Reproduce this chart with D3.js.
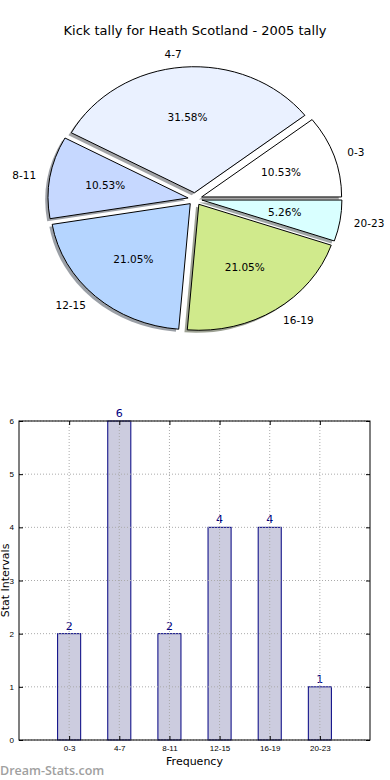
<!DOCTYPE html>
<html>
<head>
<meta charset="utf-8">
<script src="https://cdn.jsdelivr.net/npm/d3@7"></script>
<style>
  body { margin: 0; background: #fff; }
  svg { display: block; font-family: "DejaVu Sans", sans-serif; }
</style>
</head>
<body>
<svg width="390" height="780"></svg>
<script>
const title = "Kick tally for Heath Scotland - 2005 tally";
const categories = ["0-3", "4-7", "8-11", "12-15", "16-19", "20-23"];
const counts = [2, 6, 2, 4, 4, 1];
const sliceColors = ["#ffffff", "#eaf1ff", "#c6d8ff", "#b5d5ff", "#d0ea8c", "#d9ffff"];
const yTicks = [0, 1, 2, 3, 4, 5, 6];

const svg = d3.select("svg");

svg.append("text")
  .attr("x", 195).attr("y", 35)
  .attr("text-anchor", "middle")
  .style("font-size", "13px")
  .text(title);

// ---- pie (elliptical, like an old matplotlib pie without equal aspect)
const cx = 195, cy = 199, rx = 140, ry = 126, explode = 0.05;
const total = d3.sum(counts);

const pie = d3.pie().sort(null).startAngle(Math.PI / 2).endAngle(Math.PI / 2 - 2 * Math.PI);
const arcs = pie(counts);
const arc = d3.arc().innerRadius(0).outerRadius(rx);

const mid = d => (d.startAngle + d.endAngle) / 2;
const px = (d, k) => k * rx * Math.sin(mid(d));
const py = (d, k) => -k * ry * Math.cos(mid(d));

const pieG = svg.append("g").attr("transform", `translate(${cx},${cy})`);

// shadows first
pieG.selectAll("path.shadow")
  .data(arcs)
  .enter()
  .append("path")
  .attr("class", "shadow")
  .attr("transform", d => `translate(${px(d, explode) - 2.8},${py(d, explode) + 2.5}) scale(1,${ry / rx})`)
  .attr("d", arc)
  .attr("fill", (d, i) => {
    const c = d3.rgb(sliceColors[i]);
    return d3.rgb(c.r * 0.3, c.g * 0.3, c.b * 0.3);
  })
  .attr("opacity", 0.5);

pieG.selectAll("path.wedge")
  .data(arcs)
  .enter()
  .append("path")
  .attr("class", "wedge")
  .attr("transform", d => `translate(${px(d, explode)},${py(d, explode)}) scale(1,${ry / rx})`)
  .attr("d", arc)
  .attr("fill", (d, i) => sliceColors[i])
  .attr("stroke", "#000")
  .attr("stroke-width", 1)
  .attr("vector-effect", "non-scaling-stroke");

pieG.selectAll("text.lab")
  .data(arcs)
  .enter()
  .append("text")
  .attr("class", "lab")
  .attr("x", d => px(d, explode) + px(d, 1.1))
  .attr("y", d => py(d, explode) + py(d, 1.1))
  .attr("dy", "0.35em")
  .attr("text-anchor", d => Math.sin(mid(d)) > 0 ? "start" : "end")
  .style("font-size", "10.5px")
  .text((d, i) => categories[i]);

pieG.selectAll("text.pct")
  .data(arcs)
  .enter()
  .append("text")
  .attr("class", "pct")
  .attr("x", d => px(d, explode) + px(d, 0.6))
  .attr("y", d => py(d, explode) + py(d, 0.6))
  .attr("dy", "0.35em")
  .attr("text-anchor", "middle")
  .style("font-size", "10.5px")
  .text(d => (d.value / total * 100).toFixed(2) + "%");

// ---- bar chart
const axLeft = 19, axRight = 370, axTop = 421, axBottom = 740;
const x = d3.scaleLinear().domain([0, 7]).range([axLeft, axRight]);
const y = d3.scaleLinear().domain([0, 6]).range([axBottom, axTop]);
const barW = 0.46;
const pos = categories.map((c, i) => i + 1);

const bars = svg.append("g")
  .selectAll("rect")
  .data(counts)
  .enter();

bars.append("rect")
  .attr("x", (d, i) => x(pos[i] - barW / 2))
  .attr("y", d => y(d))
  .attr("width", x(barW) - x(0))
  .attr("height", d => y(0) - y(d))
  .attr("fill", "#ccccdf")
  .attr("stroke", "#000080")
  .attr("stroke-width", 1);

bars.append("text")
  .attr("x", (d, i) => x(pos[i]))
  .attr("y", d => y(d) - 4)
  .attr("text-anchor", "middle")
  .attr("fill", "#000080")
  .style("font-size", "11px")
  .text(d => d);

// dotted grid
const grid = svg.append("g").attr("stroke", "#aaa").attr("stroke-dasharray", "1,2");
grid.selectAll("line.h").data(yTicks).enter().append("line")
  .attr("x1", axLeft).attr("x2", axRight)
  .attr("y1", d => y(d)).attr("y2", d => y(d));
grid.selectAll("line.v").data(pos).enter().append("line")
  .attr("y1", axTop).attr("y2", axBottom)
  .attr("x1", d => x(d)).attr("x2", d => x(d));

// frame
svg.append("rect")
  .attr("x", axLeft).attr("y", axTop)
  .attr("width", axRight - axLeft).attr("height", axBottom - axTop)
  .attr("fill", "none").attr("stroke", "#000").attr("stroke-width", 1);

const tickStyle = g => {
  g.select(".domain").remove();
  g.selectAll("text").style("font-size", "8px").attr("fill", "#000");
};

svg.append("g")
  .attr("transform", `translate(${axLeft},0)`)
  .call(d3.axisLeft(y).tickValues(yTicks).tickFormat(d3.format("d")).tickSizeInner(-4).tickSizeOuter(0).tickPadding(5))
  .call(tickStyle);

svg.append("g")
  .attr("transform", `translate(${axRight},0)`)
  .call(d3.axisRight(y).tickValues(yTicks).tickFormat("").tickSizeInner(-4).tickSizeOuter(0))
  .call(tickStyle);

svg.append("g")
  .attr("transform", `translate(0,${axBottom})`)
  .call(d3.axisBottom(x).tickValues(pos).tickFormat((d, i) => categories[i]).tickSizeInner(-4).tickSizeOuter(0).tickPadding(5))
  .call(tickStyle);

svg.append("g")
  .attr("transform", `translate(0,${axTop})`)
  .call(d3.axisTop(x).tickValues(pos).tickFormat("").tickSizeInner(-4).tickSizeOuter(0))
  .call(tickStyle);

svg.append("text")
  .attr("x", (axLeft + axRight) / 2).attr("y", 765)
  .attr("text-anchor", "middle")
  .style("font-size", "11px")
  .text("Frequency");

svg.append("text")
  .attr("transform", `translate(9,${(axTop + axBottom) / 2}) rotate(-90)`)
  .attr("text-anchor", "middle")
  .style("font-size", "11px")
  .text("Stat Intervals");

svg.append("text")
  .attr("x", 0).attr("y", 775)
  .attr("fill", "#a0a0a0")
  .style("font-family", "'Open Sans', sans-serif")
  .style("font-size", "12.5px")
  .style("font-weight", "600")
  .text("Dream-Stats.com");
</script>
</body>
</html>
